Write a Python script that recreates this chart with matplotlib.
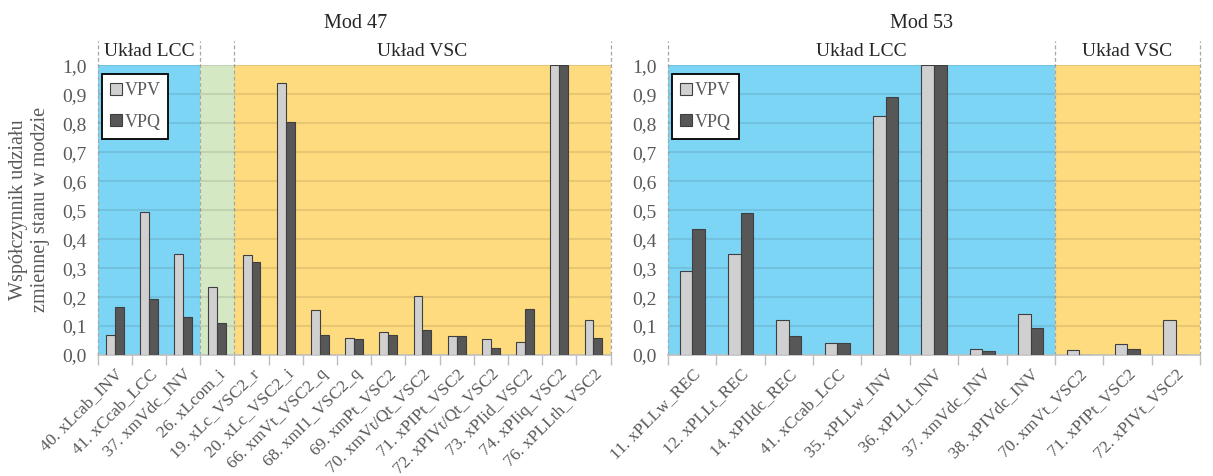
import numpy as np
import matplotlib.pyplot as plt

# Dane - Mod 47
mod47_labels = ["40. xLcab_INV", "41. xCcab_LCC", "37. xmVdc_INV", "26. xLcom_i",
                "19. xLc_VSC2_r", "20. xLc_VSC2_i", "66. xmVt_VSC2_q", "68. xmI1_VSC2_q",
                "69. xmPt_VSC2", "70. xmVt/Qt_VSC2", "71. xPIPt_VSC2", "72. xPIVt/Qt_VSC2",
                "73. xPIid_VSC2", "74. xPIiq_VSC2", "76. xPLLth_VSC2"]
mod47_vpv = [0.07, 0.495, 0.35, 0.235, 0.345, 0.94, 0.155, 0.06, 0.08, 0.205, 0.065, 0.055, 0.045, 1.0, 0.12]
mod47_vpq = [0.165, 0.195, 0.13, 0.11, 0.32, 0.805, 0.07, 0.055, 0.068, 0.085, 0.065, 0.025, 0.16, 1.0, 0.06]
mod47_groups = [("Układ LCC", 3, "#7DD5F6"), ("", 1, "#D5E8C4"), ("Układ VSC", 11, "#FFDB80")]

# Dane - Mod 53
mod53_labels = ["11. xPLLw_REC", "12. xPLLt_REC", "14. xPIIdc_REC", "41. xCcab_LCC",
                "35. xPLLw_INV", "36. xPLLt_INV", "37. xmVdc_INV", "38. xPIVdc_INV",
                "70. xmVt_VSC2", "71. xPIPt_VSC2", "72. xPIVt_VSC2"]
mod53_vpv = [0.29, 0.35, 0.12, 0.04, 0.825, 1.0, 0.022, 0.14, 0.018, 0.038, 0.12]
mod53_vpq = [0.435, 0.49, 0.065, 0.04, 0.89, 1.0, 0.013, 0.092, 0.0, 0.022, 0.0]
mod53_groups = [("Układ LCC", 8, "#7DD5F6"), ("Układ VSC", 3, "#FFDB80")]

plt.rcParams['font.family'] = ['Liberation Serif', 'DejaVu Serif']
txt_grey = "#595959"


def panel(ax, title, title_x, labels, vpv, vpq, groups):
    n = len(labels)
    x = np.arange(n) + 0.5
    w = 0.26
    # tla grup
    start = 0
    for name, cnt, col in groups:
        ax.axvspan(start, start + cnt, color=col, zorder=0, lw=0)
        ax.text(start + cnt / 2, 1.05, name, transform=ax.get_xaxis_transform(),
                ha='center', va='center', fontsize=14, color="#262626")
        start += cnt
    # linie przerywane
    start = 0
    bounds = [0]
    for _, cnt, _ in groups:
        start += cnt
        bounds.append(start)
    for b in bounds:
        ax.axvline(b, ymin=0, ymax=1.085, color="#A6A6A6", ls=(0, (3, 2)), lw=0.9,
                   clip_on=False, zorder=1)
    for yv in np.arange(0.1, 1.01, 0.1):
        ax.axhline(yv, color="black", alpha=0.09, lw=1.5, zorder=1)
    ax.bar(x - w / 2, vpv, w, color="#D0D0D0", edgecolor="#3F3F3F", lw=0.8, label="VPV", zorder=3)
    ax.bar(x + w / 2, vpq, w, color="#575757", edgecolor="#3F3F3F", lw=0.8, label="VPQ", zorder=3)
    ax.set_xlim(0, n)
    ax.set_ylim(0, 1.0)
    ax.set_yticks(np.arange(0, 1.01, 0.1))
    ax.set_yticklabels([f"{v:.1f}".replace(".", ",") for v in np.arange(0, 1.01, 0.1)])
    ax.set_xticks(x)
    ax.set_xticklabels(labels, rotation=45, ha='right', rotation_mode='anchor', fontsize=12.5,
                       color=txt_grey)
    ax.set_xticks(np.arange(n + 1), minor=True)
    ax.tick_params(axis='x', which='major', length=0, pad=8)
    ax.tick_params(axis='x', which='minor', length=7, color="#BFBFBF", width=1)
    ax.tick_params(axis='y', length=0, labelsize=14, labelcolor=txt_grey, pad=8)
    for s in ['left', 'right', 'top']:
        ax.spines[s].set_visible(False)
    ax.spines['bottom'].set_color("#BFBFBF")
    ax.spines['bottom'].set_linewidth(1.2)
    ax.text(title_x, 1.145, title, transform=ax.transAxes, ha='center', va='center',
            fontsize=14.5, color="#262626")
    leg = ax.legend(loc='upper left', bbox_to_anchor=(0.008, 0.97), fontsize=13, frameon=True,
                    fancybox=False, edgecolor='black', framealpha=1, handlelength=0.65,
                    handleheight=0.65, handletextpad=0.15, labelspacing=0.8, borderpad=0.45,
                    borderaxespad=0, labelcolor=txt_grey)
    leg.get_frame().set_linewidth(1.3)


fig = plt.figure(figsize=(12.13, 4.76), dpi=100)
ax1 = fig.add_axes([0.0805, 0.2542, 0.4228, 0.6082])
ax2 = fig.add_axes([0.5507, 0.2542, 0.4386, 0.6082])
panel(ax1, "Mod 47", 0.503, mod47_labels, mod47_vpv, mod47_vpq, mod47_groups)
panel(ax2, "Mod 53", 0.476, mod53_labels, mod53_vpv, mod53_vpq, mod53_groups)

fig.text(0.024, 0.559, "Współczynnik udziału\nzmiennej stanu w modzie", rotation=90,
         ha='center', va='center', fontsize=14.5, color=txt_grey, linespacing=1.2)

fig.savefig("out.png", dpi=100)
